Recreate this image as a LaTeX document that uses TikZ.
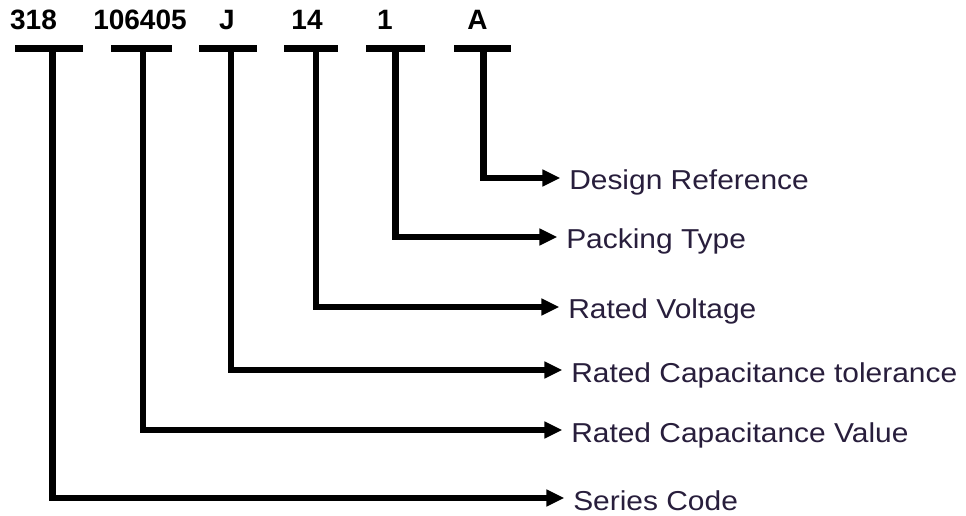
\documentclass[tikz,border=0pt]{standalone}
\usepackage{fontspec}
\setmainfont{Liberation Sans}
\newfontfamily\lblfont[FakeStretch=1.095]{Liberation Sans}
\usetikzlibrary{arrows.meta}
\definecolor{lbltext}{RGB}{40,30,60}
\tikzset{
  code/.style={font=\fontsize{21pt}{25pt}\selectfont\bfseries, text=black, inner sep=0pt, anchor=base},
  lbl/.style={font=\lblfont\fontsize{20.5pt}{25pt}\selectfont, text=lbltext, inner sep=0pt, anchor=west, text height=18pt, text depth=0pt},
  barline/.style={line width=5.2pt, black},
  conn/.style={line width=5pt, black, line join=miter, -{Triangle[length=13.5pt,width=12pt]}, shorten >=6.5pt}
}
\begin{document}
\begin{tikzpicture}[x=0.75pt,y=-0.75pt]
\useasboundingbox[fill=white] (0,0) rectangle (966,516);
% top code nodes
\node[code] (t1) at (33.5,30) {318};
\node[code] (t2) at (140,30) {106405};
\node[code] (t3) at (227,30) {J};
\node[code] (t4) at (307,30) {14};
\node[code] (t5) at (385,30) {1};
\node[code] (t6) at (477.5,30) {A};
% bars
\draw[barline] (15,48.5) -- (83,48.5);
\draw[barline] (111,48.5) -- (172,48.5);
\draw[barline] (199,48.5) -- (257,48.5);
\draw[barline] (284,48.5) -- (338,48.5);
\draw[barline] (366,48.5) -- (425,48.5);
\draw[barline] (454,48.5) -- (511,48.5);
% stem tops
\coordinate (s1) at (52.5,48.5);
\coordinate (s2) at (143,48.5);
\coordinate (s3) at (231,48.5);
\coordinate (s4) at (316,48.5);
\coordinate (s5) at (395.5,48.5);
\coordinate (s6) at (483.5,48.5);
% labels
\node[lbl] (l6) at (569,178) {Design Reference};
\node[lbl] (l5) at (566,237) {Packing Type};
\node[lbl] (l4) at (568,307) {Rated Voltage};
\node[lbl] (l3) at (571,370) {Rated Capacitance tolerance};
\node[lbl] (l2) at (571,430) {Rated Capacitance Value};
\node[lbl] (l1) at (573,498) {Series Code};
% connectors
\draw[conn] (s6) |- (l6.west);
\draw[conn] (s5) |- (l5.west);
\draw[conn] (s4) |- (l4.west);
\draw[conn] (s3) |- (l3.west);
\draw[conn] (s2) |- (l2.west);
\draw[conn] (s1) |- (l1.west);
\end{tikzpicture}
\end{document}
